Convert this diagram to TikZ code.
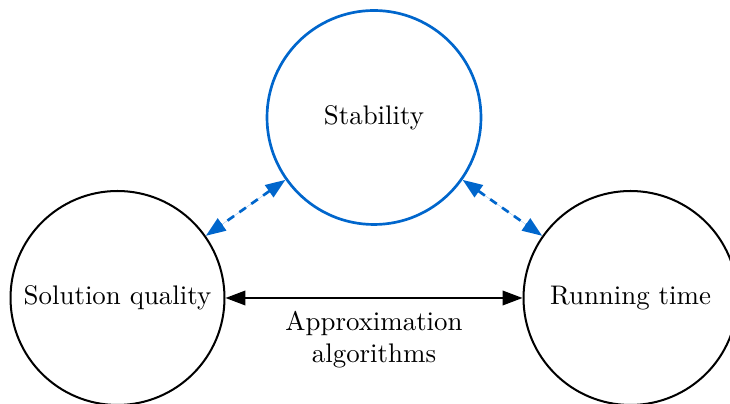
\documentclass[tikz,border=0pt]{standalone}
\usetikzlibrary{arrows.meta}
\definecolor{myblue}{RGB}{0,102,204}
\begin{document}
\begin{tikzpicture}[x=0.372pt,y=-0.372pt,
  circ/.style={circle,draw,line width=0.75pt,minimum size=79.6pt,inner sep=0pt},
  biarrow/.style={line width=0.7pt,{Triangle[length=7.4pt,width=5.4pt]}-{Triangle[length=7.4pt,width=5.4pt]}},
  dasharrow/.style={biarrow,line width=1pt,draw=myblue,fill=myblue,dash pattern=on 3pt off 2.4pt}]
\useasboundingbox (0,0) rectangle (730,404);
\node[circ,draw=myblue,line width=1pt] (stab) at (374,117.5) {Stability};
\node[circ] (sol) at (117.5,298) {Solution quality};
\node[circ] (run) at (630.5,298) {Running time};
\draw[biarrow] (sol) -- (run);
\node[align=center] (lbl) at (374,340) {Approximation\\algorithms};
\draw[dasharrow] (stab) -- (sol);
\draw[dasharrow] (stab) -- (run);
\end{tikzpicture}
\end{document}
